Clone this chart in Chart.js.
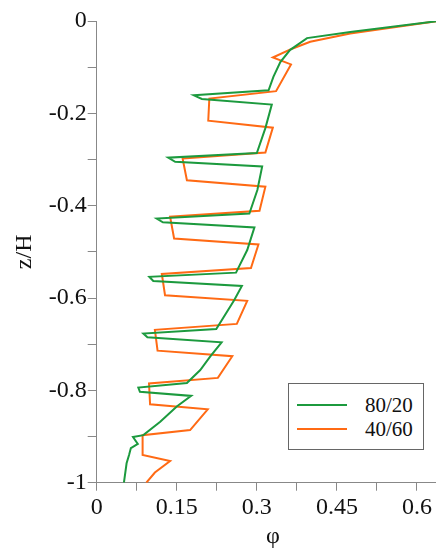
<!DOCTYPE html>
<html><head><meta charset="utf-8">
<script src="https://cdn.jsdelivr.net/npm/chart.js@4.4.1/dist/chart.umd.min.js"></script>
<style>
html,body{margin:0;padding:0;overflow:hidden;background:#fff;}
#wrap{position:relative;width:436px;height:552px;overflow:hidden;font-family:"Liberation Serif",serif;}
#c{position:absolute;left:0;top:0;}
#legend{position:absolute;left:288px;top:383px;width:136px;height:67px;border:1px solid #666;box-sizing:border-box;font-family:"Liberation Serif",serif;font-size:21px;color:#111;background:#fff;}
.item{position:absolute;left:0;height:24px;width:100%;}
.item .ln{position:absolute;left:8px;width:50px;height:2px;top:11px;}
.item .tx{position:absolute;left:76px;top:0;line-height:24px;white-space:nowrap;}
</style>
</head><body>
<div id="wrap"><canvas id="c" width="449" height="552"></canvas><div id="legend"></div></div>
<script>
// ---- data ----
const seriesLabels = ['80/20', '40/60'];
const seriesColors = ['#1c9a3e', '#ff6a14'];

const greenPhi = [0.64,0.475,0.394,0.362,0.344,0.331,0.322,0.182,0.197,0.328,0.316,0.300,0.134,0.147,0.310,0.301,0.286,0.1125,0.124,0.2955,0.282,0.261,0.0986,0.106,0.272,0.2575,0.224,0.0874,0.095,0.234,0.2125,0.194,0.169,0.078,0.081,0.177,0.150,0.119,0.0874,0.068,0.077,0.064,0.0606,0.056,0.051];
const greenZ   = [0,-0.024,-0.037,-0.063,-0.089,-0.121,-0.150,-0.161,-0.169,-0.181,-0.232,-0.286,-0.296,-0.305,-0.315,-0.366,-0.417,-0.428,-0.436,-0.447,-0.496,-0.545,-0.554,-0.563,-0.574,-0.605,-0.667,-0.677,-0.685,-0.696,-0.727,-0.756,-0.784,-0.794,-0.803,-0.812,-0.835,-0.868,-0.897,-0.901,-0.916,-0.925,-0.940,-0.958,-1.0];

const orangePhi = [0.64,0.475,0.400,0.366,0.330,0.364,0.336,0.211,0.209,0.330,0.316,0.161,0.169,0.316,0.305,0.1375,0.145,0.303,0.289,0.122,0.128,0.282,0.2625,0.109,0.114,0.254,0.227,0.098,0.100,0.208,0.175,0.086,0.086,0.1375,0.109,0.093];
const orangeZ   = [0,-0.027,-0.045,-0.060,-0.079,-0.094,-0.152,-0.168,-0.216,-0.231,-0.285,-0.298,-0.345,-0.359,-0.411,-0.424,-0.471,-0.484,-0.535,-0.548,-0.594,-0.606,-0.656,-0.669,-0.714,-0.726,-0.773,-0.785,-0.830,-0.841,-0.886,-0.897,-0.940,-0.953,-0.978,-1.0];

const xTickValues = [0,0.075,0.15,0.225,0.3,0.375,0.45,0.525,0.6];
const xTickLabels = ['0','','0.15','','0.3','','0.45','','0.6'];
const yTickValues = [0,-0.1,-0.2,-0.3,-0.4,-0.5,-0.6,-0.7,-0.8,-0.9,-1];
const yTickLabels = ['0','','-0.2','','-0.4','','-0.6','','-0.8','','-1'];
const xTitle = 'φ';
const yTitle = 'z/H';

// ---- chart ----
const serif = "'Liberation Serif', 'Times New Roman', serif";
Chart.defaults.font.family = serif;
function pts(xs, ys){ return xs.map((v,i)=>({x:v,y:ys[i]})); }
const series = [pts(greenPhi, greenZ), pts(orangePhi, orangeZ)];

function build(){
  const chart = new Chart(document.getElementById('c').getContext('2d'), {
    type: 'scatter',
    data: {
      datasets: series.map((d,i)=>({
        label: seriesLabels[i], data: d, showLine: true, borderColor: seriesColors[i],
        backgroundColor: seriesColors[i], borderWidth: 2, pointRadius: 0, tension: 0, fill: false
      }))
    },
    options: {
      responsive: false, animation: false, devicePixelRatio: 1,
      layout: {padding: {top: 21, left: 0, right: 0, bottom: 0}},
      plugins: {legend: {display: false}, tooltip: {enabled: false}},
      scales: {
        x: {
          type: 'linear', min: 0, max: 0.66,
          afterBuildTicks: s => { s.ticks = xTickValues.map(v=>({value:v})); },
          afterFit: s => { s.height = 69.3; },
          ticks: {callback: (v,i)=>xTickLabels[i], font: {family: serif, size: 24}, color: '#111', padding: 3, maxRotation: 0, autoSkip: false},
          grid: {drawOnChartArea: false, tickLength: 8, color: '#888'},
          border: {color: '#888', width: 1},
          title: {display: true, text: xTitle, font: {family: serif, size: 24}, color: '#111', padding: {top: 0, bottom: 1}}
        },
        y: {
          type: 'linear', min: -1, max: 0,
          afterBuildTicks: s => { s.ticks = yTickValues.map(v=>({value:v})); },
          afterFit: s => { s.width = 96.7; },
          ticks: {callback: (v,i)=>yTickLabels[i], font: {family: serif, size: 24}, color: '#111', padding: 1, autoSkip: false},
          grid: {drawOnChartArea: false, tickLength: 9, color: '#888'},
          border: {color: '#888', width: 1},
          title: {display: true, text: yTitle, font: {family: serif, size: 24}, color: '#111', padding: {top: 10.6, bottom: 0}}
        }
      }
    }
  });

  // ---- legend (HTML, built from datasets) ----
  const lg = document.getElementById('legend');
  chart.data.datasets.forEach((ds,i)=>{
    const it = document.createElement('div'); it.className='item'; it.style.top = (9 + i*24) + 'px';
    const ln = document.createElement('div'); ln.className='ln'; ln.style.background = ds.borderColor;
    const tx = document.createElement('div'); tx.className='tx'; tx.textContent = ds.label;
    it.appendChild(ln); it.appendChild(tx); lg.appendChild(it);
  });
}
if (document.fonts && document.fonts.load) {
  document.fonts.load("24px 'Liberation Serif'").then(build, build);
} else { build(); }
</script>
</body></html>
